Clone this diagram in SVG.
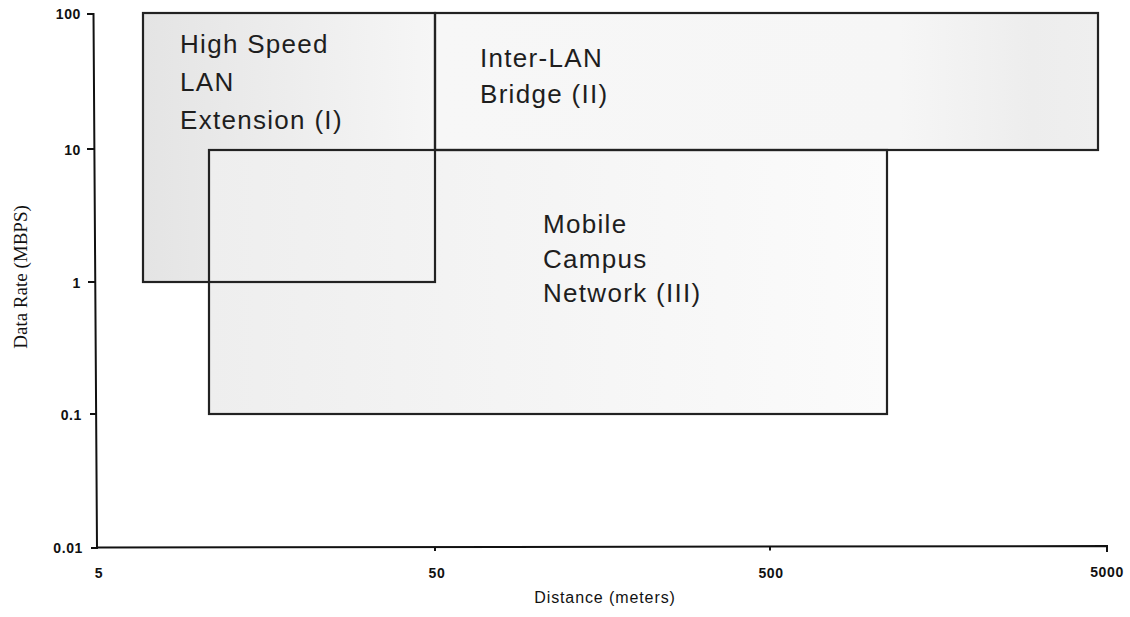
<svg xmlns="http://www.w3.org/2000/svg" width="1130" height="617" viewBox="0 0 1130 617">
  <style>
    .box { stroke: #222222; stroke-width: 2.2; fill: none; }
    .lbl { font-family: "Liberation Sans", Arial, sans-serif; font-size: 26px; letter-spacing: 1.3px; fill: #1e1e1e; }
    .tick { font-family: "Liberation Sans", Arial, sans-serif; font-size: 14px; font-weight: bold; letter-spacing: 0.6px; fill: #111; }
    .axis { stroke: #111; stroke-width: 2; fill: none; }
    .ttl { font-family: "Liberation Sans", Arial, sans-serif; font-size: 16px; letter-spacing: 0.9px; fill: #111; }
    .yt { font-family: "Liberation Serif", "Times New Roman", serif; font-size: 19px; fill: #111; }
  </style>
  <defs>
    <linearGradient id="g1" x1="0" y1="0" x2="1" y2="0">
      <stop offset="0" stop-color="#e4e4e4"/>
      <stop offset="0.5" stop-color="#ededed"/>
      <stop offset="1" stop-color="#f6f6f6"/>
    </linearGradient>
    <linearGradient id="g2" x1="0" y1="0" x2="1" y2="0">
      <stop offset="0" stop-color="#f7f7f7"/>
      <stop offset="0.7" stop-color="#f6f6f6"/>
      <stop offset="0.9" stop-color="#ededed"/>
      <stop offset="1" stop-color="#efefef"/>
    </linearGradient>
    <linearGradient id="g3" x1="0" y1="0" x2="1" y2="0">
      <stop offset="0" stop-color="#eeeeee"/>
      <stop offset="0.35" stop-color="#f3f3f3"/>
      <stop offset="1" stop-color="#fbfbfb"/>
    </linearGradient>
  </defs>
  <rect width="1130" height="617" fill="#ffffff"/>

  <g id="region-I-fill">
    <rect x="143" y="13" width="292" height="269" fill="url(#g1)"/>
  </g>
  <g id="region-II-fill">
    <rect x="435" y="13" width="663" height="137" fill="url(#g2)"/>
  </g>
  <g id="region-III-fill">
    <rect x="209" y="150" width="678" height="264" fill="url(#g3)"/>
  </g>

  <g id="region-I">
    <rect class="box" x="143" y="13" width="292" height="269"/>
    <text class="lbl" x="180" y="53">High Speed</text>
    <text class="lbl" x="180" y="91">LAN</text>
    <text class="lbl" x="180" y="129">Extension (I)</text>
  </g>
  <g id="region-II">
    <rect class="box" x="435" y="13" width="663" height="137"/>
    <text class="lbl" x="480" y="67">Inter-LAN</text>
    <text class="lbl" x="480" y="103">Bridge (II)</text>
  </g>
  <g id="region-III">
    <rect class="box" x="209" y="150" width="678" height="264"/>
    <text class="lbl" x="543" y="233">Mobile</text>
    <text class="lbl" x="543" y="268">Campus</text>
    <text class="lbl" x="543" y="302">Network (III)</text>
  </g>

  <g id="axes">
    <path class="axis" d="M93.5 13 L97 548 M97 547.5 L1107 546 L1107 552"/>
    <path class="axis" d="M87 14 H94 M87 149 H95 M88 282 H96 M90 414 H97 M91 548 H98 M435 547 V551 M770 546.5 V550.5"/>
    <text class="tick" x="81" y="19" text-anchor="end">100</text>
    <text class="tick" x="81" y="155" text-anchor="end">10</text>
    <text class="tick" x="81" y="288" text-anchor="end">1</text>
    <text class="tick" x="82" y="420" text-anchor="end">0.1</text>
    <text class="tick" x="83" y="553" text-anchor="end">0.01</text>
    <text class="tick" x="99" y="578" text-anchor="middle">5</text>
    <text class="tick" x="437" y="578" text-anchor="middle">50</text>
    <text class="tick" x="771" y="578" text-anchor="middle">500</text>
    <text class="tick" x="1107" y="577" text-anchor="middle">5000</text>
    <text class="ttl" x="605" y="603" text-anchor="middle">Distance (meters)</text>
    <text class="yt" transform="translate(27 277) rotate(-90)" text-anchor="middle">Data Rate (MBPS)</text>
  </g>
</svg>
